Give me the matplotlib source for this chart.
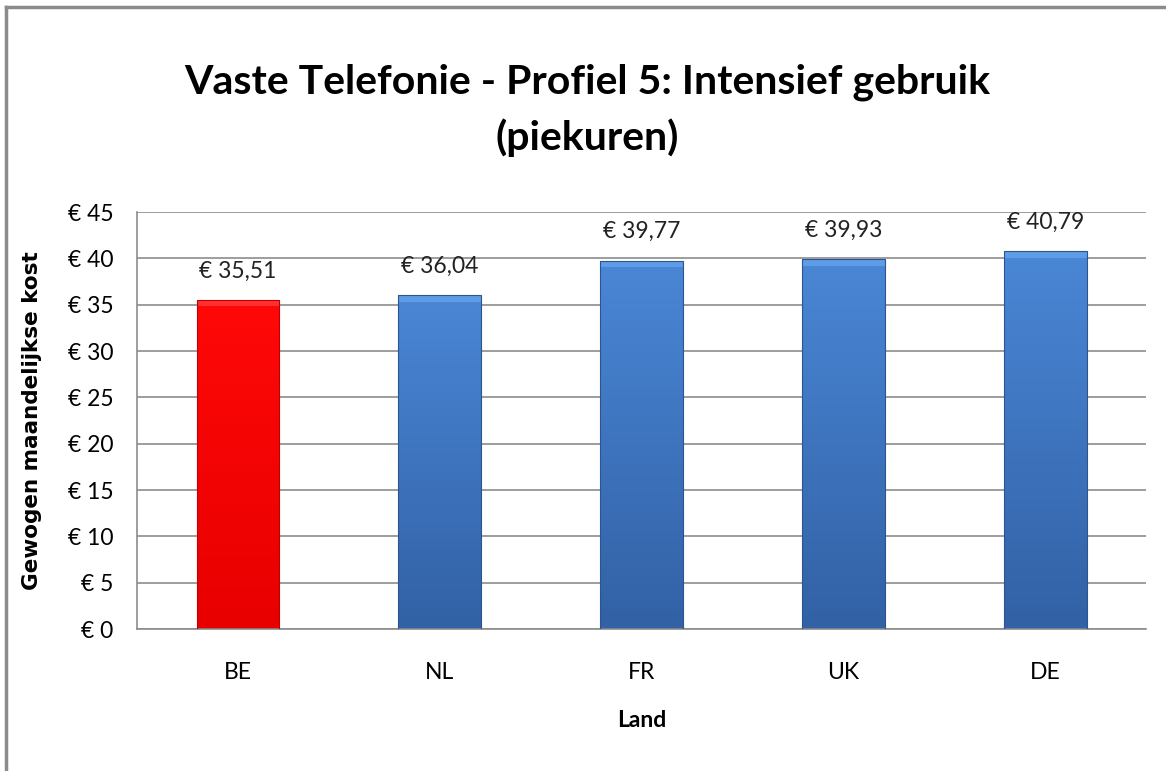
import numpy as np
import matplotlib
matplotlib.use('Agg')
import matplotlib.pyplot as plt
from matplotlib.lines import Line2D
from matplotlib.patches import Rectangle
from matplotlib.colors import LinearSegmentedColormap

# data
landen = ['BE', 'NL', 'FR', 'UK', 'DE']
kosten = [35.51, 36.04, 39.77, 39.93, 40.79]
y_ticks = [0, 5, 10, 15, 20, 25, 30, 35, 40, 45]

narrow = ['Lato', 'DejaVu Sans']

fig = plt.figure(figsize=(11.66, 7.71), dpi=100)
ax = fig.add_axes([0.1175, 0.184, 0.8655, 0.541])

x = np.arange(len(landen))
bars = ax.bar(x, kosten, width=0.41, color='#3C74BC', zorder=2)

# gradient fill per bar, with a lighter strip at the top (bevel look)
red_cm = LinearSegmentedColormap.from_list('r', ['#E80000', '#FF0808'])
blue_cm = LinearSegmentedColormap.from_list('b', ['#3261A5', '#4A87D6'])
grad = np.linspace(0, 1, 256).reshape(-1, 1)
for i, b in enumerate(bars):
    cm = red_cm if i == 0 else blue_cm
    top_col = '#FF3030' if i == 0 else '#5E9DE6'
    edge_col = '#C00000' if i == 0 else '#2B5490'
    b.set_facecolor('none')
    b.set_edgecolor(edge_col)
    b.set_linewidth(0.8)
    b.set_zorder(3)
    im = ax.imshow(grad, cmap=cm, aspect='auto', origin='lower',
                   extent=[b.get_x(), b.get_x() + b.get_width(), 0, b.get_height()],
                   zorder=2)
    im.set_clip_path(b)
    strip = Rectangle((b.get_x(), b.get_height() - 0.7), b.get_width(), 0.7,
                      facecolor=top_col, edgecolor='none', zorder=2.5)
    ax.add_patch(strip)
    ax.text(b.get_x() + b.get_width() / 2, b.get_height() + 2.0,
            '€ ' + f'{kosten[i]:.2f}'.replace('.', ','),
            ha='center', va='bottom', fontsize=16.5, family=narrow, color='#222222')

ax.set_xlim(-0.5, len(landen) - 0.5)
ax.set_ylim(0, 45)
ax.set_yticks(y_ticks)
ax.set_yticklabels(['€ ' + str(t) for t in y_ticks], family=narrow, fontsize=16.5)
ax.set_xticks(x)
ax.set_xticklabels(landen, family=narrow, fontsize=16.5)
ax.tick_params(axis='y', length=0, pad=17)
ax.tick_params(axis='x', length=0, pad=24)
ax.grid(axis='y', color='#8C8C8C', linewidth=1.2, zorder=0)
ax.set_axisbelow(True)
for s in ['top', 'right']:
    ax.spines[s].set_visible(False)
ax.spines['left'].set_color('#8C8C8C')
ax.spines['bottom'].set_color('#8C8C8C')
ax.spines['left'].set_linewidth(1.2)
ax.spines['bottom'].set_linewidth(1.2)

ax.set_xlabel('Land', family=narrow, fontsize=16.5, fontweight='bold')
ax.xaxis.set_label_coords(0.5, -0.195)
ax.set_ylabel('Gewogen maandelijkse kost', fontsize=15.5, fontweight='bold')
ax.yaxis.set_label_coords(-0.094, 0.5)

fig.text(0.504, 0.857, 'Vaste Telefonie - Profiel 5: Intensief gebruik\n(piekuren)',
         ha='center', va='center', fontsize=29.5, fontweight='bold', family=narrow,
         linespacing=1.55)

# outer chart border (left and top)
fig.add_artist(Line2D([6 / 1166, 6 / 1166], [0, 1 - 7 / 771], color='#8C8C8C', linewidth=2.5))
fig.add_artist(Line2D([6 / 1166, 1], [1 - 7 / 771, 1 - 7 / 771], color='#8C8C8C', linewidth=2.5))

fig.savefig('out.png', dpi=100)
